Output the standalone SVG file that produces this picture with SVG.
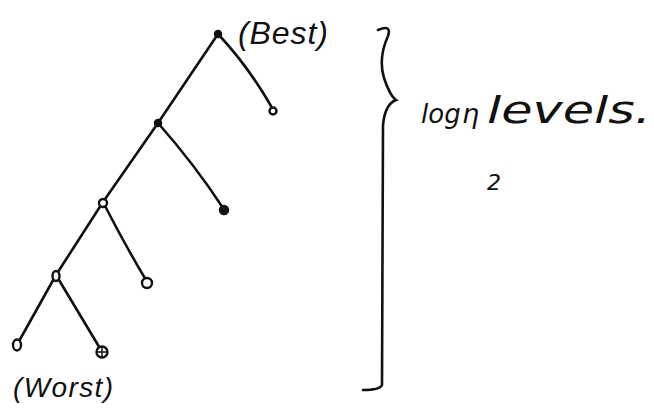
<svg xmlns="http://www.w3.org/2000/svg" width="654" height="418" viewBox="0 0 654 418">
<style>
.e{fill:none;stroke:#111;stroke-width:2.6;stroke-linecap:round}
.f{fill:#111;stroke:#111;stroke-width:1.5}
.o{fill:#fff;stroke:#111;stroke-width:2.4}
.t{font-family:"Liberation Sans",sans-serif;font-style:italic;fill:#111}
.h{font-family:"DejaVu Sans",sans-serif;font-style:oblique;fill:#111}
</style>
<rect width="654" height="418" fill="#fff"/>
<g id="connectors">
<path class="e" d="M218,34 Q248,66 271,106"/>
<path class="e" d="M218,34 L158,123"/>
<path class="e" d="M158,123 Q195,165 223,208"/>
<path class="e" d="M158,123 L103,202"/>
<path class="e" d="M103,202 Q125,245 146,280"/>
<path class="e" d="M103,202 L56,275"/>
<path class="e" d="M56,275 L18,343"/>
<path class="e" d="M56,275 Q80,315 101,350"/>
</g>
<g id="n-root"><circle class="f" cx="218" cy="34" r="3.5"/></g>
<g id="n-r1"><circle class="o" cx="273" cy="111" r="3.5"/></g>
<g id="n-l1"><circle class="f" cx="158" cy="123" r="3.5"/></g>
<g id="n-l1r"><circle class="f" cx="224" cy="210" r="4.5"/></g>
<g id="n-l2"><circle class="o" cx="103" cy="203" r="4"/></g>
<g id="n-l2r"><circle class="o" cx="147" cy="283" r="5"/></g>
<g id="n-l3"><ellipse class="o" cx="56" cy="276" rx="3.5" ry="5"/></g>
<g id="n-l4"><ellipse class="o" cx="17" cy="345" rx="4" ry="5.5"/></g>
<g id="n-l4r"><circle class="o" cx="102" cy="352" r="5.5"/><path d="M97,352 H107 M102,347 V357" stroke="#111" stroke-width="1.5"/></g>
<g id="labels">
<text class="t" x="238" y="44" font-size="32" textLength="90">(Best)</text>
<text class="t" x="13" y="397" font-size="28" textLength="100">(Worst)</text>
</g>
<g id="brace">
<path class="e" d="M378,30 Q392,24 388,36 Q378,58 384,78 Q390,96 396,100 Q385,104 383,125 L382,385 Q380,390 363,390"/>
</g>
<g id="annotation">
<text class="h" x="421" y="123" font-size="26">log</text>
<text class="h" x="487" y="190" font-size="22">2</text>
<text class="h" x="462" y="123" font-size="27">η</text>
<text class="h" x="487" y="123" font-size="38" textLength="164" lengthAdjust="spacingAndGlyphs">levels.</text>
</g>
</svg>
